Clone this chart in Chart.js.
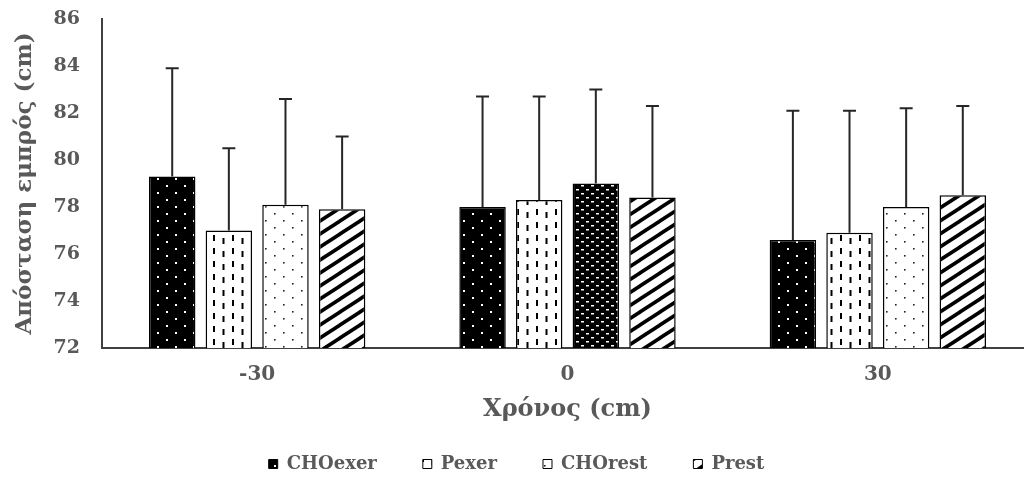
<!DOCTYPE html>
<html>
<head>
<meta charset="utf-8">
<script src="https://cdn.jsdelivr.net/npm/chart.js@4.4.1/dist/chart.umd.min.js"></script>
<style>
    html, body { margin: 0; padding: 0; background: #fff; overflow: hidden; }
    #wrap { width: 1040px; height: 483px; position: relative; }
</style>
</head>
<body>
<div id="wrap"><canvas id="chart"></canvas></div>
<script>
// Data
const timePoints = ['-30', '0', '30'];
const seriesNames = ['CHOexer', 'Pexer', 'CHOrest', 'Prest'];

const choExer = [79.3, 78.0, 76.6];
const pExer = [77.0, 78.3, 76.9];
const choRest = [78.1, 79.0, 78.0];
const pRest = [77.9, 78.4, 78.5];

const choExerErr = [4.6, 4.7, 5.5];
const pExerErr = [3.5, 4.4, 5.2];
const choRestErr = [4.5, 4.0, 4.2];
const pRestErr = [3.1, 3.9, 3.8];

const yTicks = [72, 74, 76, 78, 80, 82, 84, 86];

const TEXT = '#595959';
const FONT = 'DejaVu Serif';

/**
 * Build a small tile and return a canvas pattern
 */
function makePattern(w, h, draw) {
    const c = document.createElement('canvas');
    c.width = w;
    c.height = h;
    const g = c.getContext('2d');
    draw(g, w, h);
    return g.createPattern(c, 'repeat');
}

// black with white staggered dots
const dotsOnBlack = makePattern(18, 14, (g, w, h) => {
    g.fillStyle = '#000';
    g.fillRect(0, 0, w, h);
    g.fillStyle = '#fff';
    g.fillRect(4, 3, 2, 2);
    g.fillRect(13, 10, 2, 2);
});

// white with vertical dashes
const vertDashes = makePattern(19, 13, (g, w, h) => {
    g.fillStyle = '#fff';
    g.fillRect(0, 0, w, h);
    g.fillStyle = '#000';
    g.fillRect(4, 1, 2, 6);
    g.fillRect(13.5, 4, 2, 6);
});

// white with sparse black dots
const sparseDots = makePattern(18, 14, (g, w, h) => {
    g.fillStyle = '#fff';
    g.fillRect(0, 0, w, h);
    g.fillStyle = '#222';
    g.fillRect(4, 3, 1.6, 1.6);
    g.fillRect(13, 10, 1.6, 1.6);
});

// dark divot pattern (CHOrest at 0)
const divots = makePattern(10, 8, (g, w, h) => {
    g.fillStyle = '#000';
    g.fillRect(0, 0, w, h);
    g.fillStyle = '#fff';
    g.fillRect(1, 1, 3, 1.5);
    g.fillRect(6, 5, 3, 1.5);
});

// wide upward diagonal stripes
const stripes = makePattern(20, 13, (g, w, h) => {
    g.fillStyle = '#fff';
    g.fillRect(0, 0, w, h);
    g.strokeStyle = '#000';
    g.lineWidth = 3.6;
    [-h, 0, h].forEach(dy => {
        g.beginPath();
        g.moveTo(-2, h + dy + 1.3);
        g.lineTo(w + 2, dy - 1.3);
        g.stroke();
    });
});

const seriesValues = [choExer, pExer, choRest, pRest];
const seriesErrors = [choExerErr, pExerErr, choRestErr, pRestErr];
const seriesFills = [
    [dotsOnBlack, dotsOnBlack, dotsOnBlack],
    [vertDashes, vertDashes, vertDashes],
    [sparseDots, divots, sparseDots],
    [stripes, stripes, stripes]
];

/**
 * Upward error bars with caps
 */
const errorBars = {
    id: 'errorBars',
    afterDatasetsDraw(chart) {
        const ctx = chart.ctx;
        const yScale = chart.scales.y;
        ctx.save();
        ctx.strokeStyle = '#262626';
        ctx.lineWidth = 2;
        chart.data.datasets.forEach((ds, di) => {
            const meta = chart.getDatasetMeta(di);
            meta.data.forEach((bar, i) => {
                const yTop = yScale.getPixelForValue(ds.data[i] + ds.errors[i]);
                ctx.beginPath();
                ctx.moveTo(bar.x, bar.y);
                ctx.lineTo(bar.x, yTop);
                ctx.moveTo(bar.x - 6.5, yTop);
                ctx.lineTo(bar.x + 6.5, yTop);
                ctx.stroke();
            });
        });
        ctx.restore();
    }
};

new Chart(document.getElementById('chart'), {
    type: 'bar',
    data: {
        labels: timePoints,
        datasets: seriesNames.map((name, i) => ({
            label: name,
            data: seriesValues[i],
            errors: seriesErrors[i],
            backgroundColor: seriesFills[i],
            borderColor: '#000',
            borderWidth: 1.5,
            categoryPercentage: 0.73,
            barPercentage: 0.82
        }))
    },
    options: {
        responsive: true,
        maintainAspectRatio: false,
        animation: false,
        layout: {
            padding: { top: 0, right: 7, left: 0, bottom: 0 }
        },
        plugins: {
            tooltip: { enabled: false },
            legend: {
                position: 'bottom',
                labels: {
                    color: TEXT,
                    boxWidth: 9,
                    boxHeight: 9,
                    padding: 46,
                    font: { family: FONT, weight: 'bold', size: 18 },
                    generateLabels: chart => chart.data.datasets.map((ds, i) => ({
                        text: ds.label,
                        fillStyle: seriesFills[i][0],
                        strokeStyle: '#000',
                        lineWidth: 1,
                        fontColor: TEXT,
                        datasetIndex: i
                    }))
                }
            }
        },
        scales: {
            x: {
                afterFit: scale => { scale.height = 61; },
                grid: { display: false, drawTicks: false },
                border: { display: true, color: '#404040', width: 2 },
                ticks: {
                    color: TEXT,
                    padding: 15,
                    font: { family: FONT, weight: 'bold', size: 20 }
                },
                title: {
                    display: true,
                    text: 'Χρόνος (cm)',
                    color: TEXT,
                    padding: { top: 0, bottom: -15 },
                    font: { family: FONT, weight: 'bold', size: 24 }
                }
            },
            y: {
                min: yTicks[0],
                max: yTicks[yTicks.length - 1],
                afterFit: scale => {
                    scale.width = 102;
                    scale.paddingTop = 19;
                },
                afterBuildTicks: scale => {
                    scale.ticks = yTicks.map(v => ({ value: v }));
                },
                grid: { display: false, drawTicks: false },
                border: { display: true, color: '#404040', width: 2 },
                ticks: {
                    color: TEXT,
                    padding: 22,
                    font: { family: FONT, weight: 'bold', size: 19 }
                },
                title: {
                    display: true,
                    text: 'Απόσταση εμπρός (cm)',
                    color: TEXT,
                    padding: { top: 11, bottom: 0 },
                    font: { family: FONT, weight: 'bold', size: 23 }
                }
            }
        }
    },
    plugins: [errorBars]
});
</script>
</body>
</html>
